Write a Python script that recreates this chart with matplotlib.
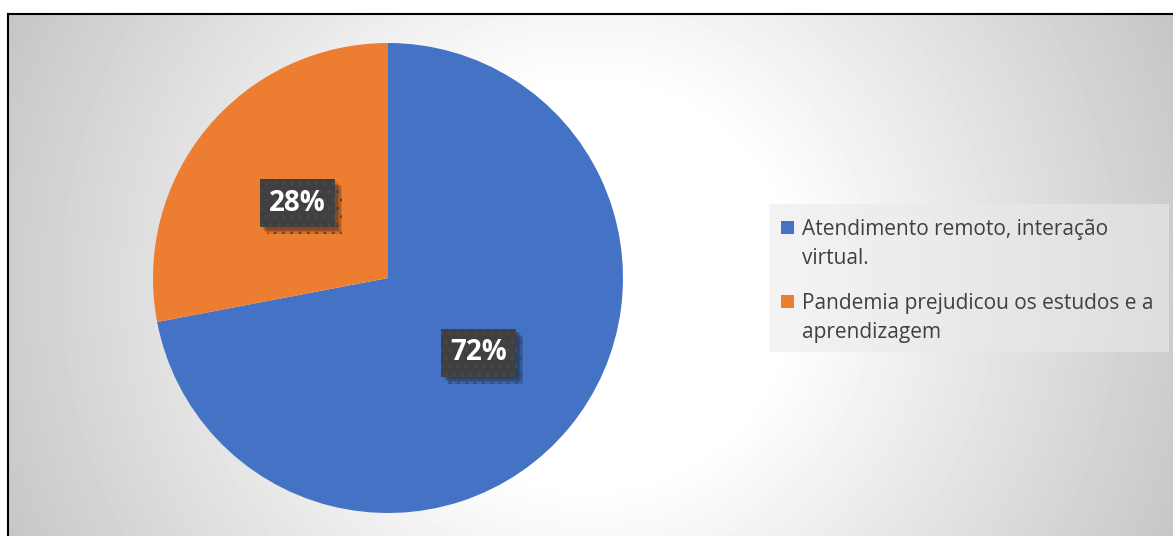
import numpy as np
import matplotlib.pyplot as plt
from matplotlib.patches import Rectangle
from matplotlib.lines import Line2D
import matplotlib.patheffects as pe

plt.rcParams['font.family'] = ['Open Sans', 'DejaVu Sans']

categories = ['Atendimento remoto, interação\nvirtual.',
              'Pandemia prejudicou os estudos e a\naprendizagem']
values = [72, 28]
colors = ['#4472C4', '#ED7D31']

W, H = 1173, 536
fig = plt.figure(figsize=(W / 100, H / 100), dpi=100)

# radial grey-to-white background inside the chart frame
bg = fig.add_axes([0, 0, 1, 1])
yy, xx = np.mgrid[0:H, 0:W]
d = np.hypot(xx - 590, yy - 285)
t = np.clip((d - 200) / 450, 0, 1)
shade = 1 - t * 0.23
shade[yy < 14] = 1
shade[:, :8] = 1
bg.imshow(shade, cmap='gray', vmin=0, vmax=1, extent=(0, W, H, 0), interpolation='bilinear')
bg.set_xlim(0, W)
bg.set_ylim(H, 0)
bg.axis('off')

# frame: top and left edges
fig.add_artist(Line2D([7.5 / W, 1], [1 - 13.5 / H] * 2, color='black', lw=1.5))
fig.add_artist(Line2D([7.5 / W] * 2, [0, 1 - 13.5 / H], color='black', lw=1.5))

# pie
cx, cy, r = 388, 278, 235
ax = fig.add_axes([(cx - r) / W, (H - cy - r) / H, 2 * r / W, 2 * r / H])
wedges, texts, autotexts = ax.pie(values, colors=colors, startangle=90, counterclock=False,
                                  autopct='%d%%', pctdistance=0.5, radius=1,
                                  textprops=dict(color='white', fontsize=20, fontweight='bold'))
ax.set_xlim(-1, 1)
ax.set_ylim(-1, 1)

# soft drop shadow for the value boxes
shadow = [pe.withSimplePatchShadow(offset=(o, -o), shadow_rgbFace='black', alpha=0.12)
          for o in (5, 4, 3, 2)]
for at in autotexts:
    at.set_bbox(dict(boxstyle='square,pad=0.33', facecolor='#404040', edgecolor='#4a4a4a',
                     linewidth=0, hatch='..'))
    at.get_bbox_patch().set_path_effects(shadow + [pe.Normal()])

# legend box and entries
fig.add_artist(Rectangle((769 / W, 1 - 352 / H), 400 / W, 148 / H, transform=fig.transFigure,
                         facecolor='#eaeaea', alpha=0.57, edgecolor='none'))
tops = [219, 293]
baselines = [234, 308]
for label, col, yt, yb in zip(categories, colors, tops, baselines):
    fig.add_artist(Rectangle((781 / W, 1 - yb / H), 13 / W, 13 / H, transform=fig.transFigure,
                             facecolor=col, edgecolor='none'))
    fig.text(802 / W, 1 - yt / H, label, fontsize=15, color='#404040', va='top',
             ha='left', linespacing=1.5)

fig.savefig('out.png', dpi=100)
